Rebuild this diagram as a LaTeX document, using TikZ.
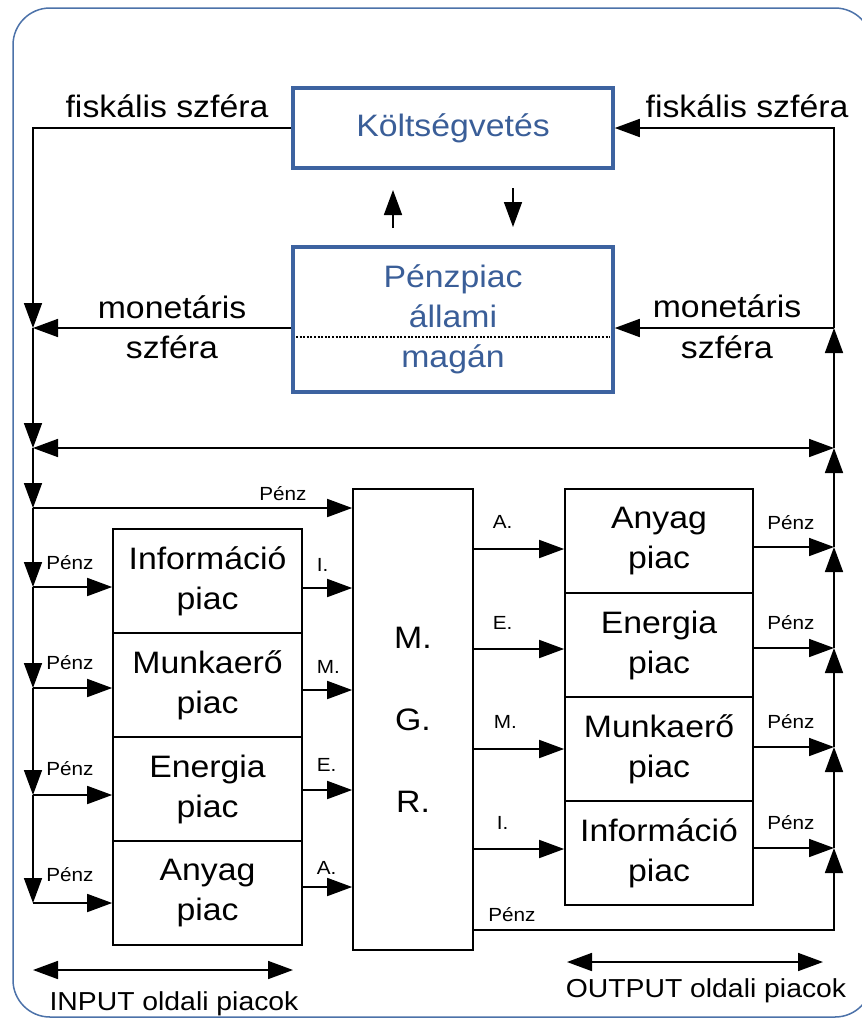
\documentclass[tikz,border=0pt]{standalone}
\usepackage{fontspec}
\setmainfont{Liberation Sans}[FakeStretch=1.09]
\usetikzlibrary{arrows.meta}
\definecolor{frameblue}{HTML}{4C72A9}
\definecolor{boxblue}{HTML}{3D63A0}
\definecolor{textblue}{HTML}{3A5E98}
\newcommand\bigtxt{\fontsize{31pt}{40pt}\selectfont}
\newcommand\smalltxt{\fontsize{19pt}{22pt}\selectfont}
\newcommand\captxt{\fontsize{26pt}{30pt}\selectfont}
\begin{document}
\begin{tikzpicture}[x=1pt,y=-1pt,
  line width=1.7pt,
  arr/.style={-{Triangle[length=25pt,width=18pt]}},
  darr/.style={{Triangle[length=25pt,width=18pt]}-{Triangle[length=25pt,width=18pt]}},
  govbox/.style={draw=boxblue, line width=3.5pt, rectangle, inner sep=0pt,
    minimum width=320pt, text=textblue, font=\bigtxt, align=center},
  mkt/.style={draw, rectangle, inner sep=0pt, minimum width=189pt,
    minimum height=104pt, font=\bigtxt, align=center},
  lbl/.style={font=\smalltxt, inner sep=0pt},
  bigl/.style={font=\bigtxt, inner sep=0pt, anchor=base},
  captl/.style={font=\captxt, inner sep=0pt, anchor=base},
]
\path[use as bounding box, clip] (0,0) rectangle (862,1018);

% outer frame
\draw[frameblue, line width=1.5pt, rounded corners=37pt] (13,8) rectangle (872,1017);

% government blocks
\node[govbox, minimum height=80pt] (kolt) at (453,128) {Költségvetés};
\node[govbox, minimum height=145pt] (ppiac) at (453,319.5) {Pénzpiac\\állami\\magán};
\draw[line width=1.2pt, dash pattern=on 2pt off 1.6pt] (296,337) -- (610,337);

\coordinate (upA) at (393,228);
\coordinate (upB) at (393,190);
\coordinate (dnA) at (513,188);
\coordinate (dnB) at (513,227);
\draw[arr] (upA) -- (upB);
\draw[arr] (dnA) -- (dnB);

% firm block
\node[draw, rectangle, inner sep=0pt, minimum width=120pt, minimum height=461pt,
  font=\bigtxt, align=center] (mgr) at (413,719.5) {M.\\[42pt]G.\\[42pt]R.};

% input side markets
\node[mkt] (infoL)  at (207.5,581) {Információ\\piac};
\node[mkt] (munkaL) at (207.5,685) {Munkaerő\\piac};
\node[mkt] (enL)    at (207.5,789) {Energia\\piac};
\node[mkt] (anyL)   at (207.5,893) {Anyag\\piac};

% output side markets
\node[mkt, minimum width=188pt] (anyR)   at (659,541) {Anyag\\piac};
\node[mkt, minimum width=188pt] (enR)    at (659,645) {Energia\\piac};
\node[mkt, minimum width=188pt] (munkaR) at (659,749) {Munkaerő\\piac};
\node[mkt, minimum width=188pt] (infoR)  at (659,853) {Információ\\piac};

% junctions of the money lines
\coordinate (L0) at (33,128);
\coordinate (L1) at (33,328);
\coordinate (L2) at (33,448);
\coordinate (L3) at (33,508);
\coordinate (L4) at (33,587);
\coordinate (L5) at (33,688);
\coordinate (L6) at (33,795);
\coordinate (L7) at (33,903);
\coordinate (R0) at (834,128);
\coordinate (R1) at (834,328);
\coordinate (R2) at (834,448);
\coordinate (R3) at (834,547);
\coordinate (R4) at (834,648);
\coordinate (R5) at (834,747);
\coordinate (R6) at (834,848);
\coordinate (R7) at (834,930);

% left money column
\draw[arr] (kolt.west) -- (L0) -- (L1);
\draw[arr] (L1) -- (L2);
\draw[arr] (L2) -- (L3);
\draw[arr] (L3) -- (L4);
\draw[arr] (L4) -- (L5);
\draw[arr] (L5) -- (L6);
\draw[arr] (L6) -- (L7);
\draw[arr] (ppiac.west |- L1) -- (L1);
\draw[darr] (L2) -- (R2);
\draw[arr] (L3) -- (mgr.west |- L3);
\draw[arr] (L4) -- (infoL.west |- L4);
\draw[arr] (L5) -- (munkaL.west |- L5);
\draw[arr] (L6) -- (enL.west |- L6);
\draw[arr] (L7) -- (anyL.west |- L7);

% input goods into the firm
\draw[arr] (infoL.east |- 0,588) -- (mgr.west |- 0,588);
\draw[arr] (munkaL.east |- 0,690) -- (mgr.west |- 0,690);
\draw[arr] (enL.east |- 0,790) -- (mgr.west |- 0,790);
\draw[arr] (anyL.east |- 0,887) -- (mgr.west |- 0,887);

% output goods from the firm
\draw[arr] (mgr.east |- 0,549) -- (anyR.west |- 0,549);
\draw[arr] (mgr.east |- 0,649) -- (enR.west |- 0,649);
\draw[arr] (mgr.east |- 0,749) -- (munkaR.west |- 0,749);
\draw[arr] (mgr.east |- 0,849) -- (infoR.west |- 0,849);

% right money column
\draw[arr] (R1) -- (R0) -- (kolt.east);
\draw[arr] (R1) -- (ppiac.east |- R1);
\draw[arr] (R2) -- (R1);
\draw[arr] (R3) -- (R2);
\draw[arr] (R4) -- (R3);
\draw[arr] (R5) -- (R4);
\draw[arr] (R6) -- (R5);
\draw[arr] (mgr.east |- R7) -- (R7) -- (R6);
\draw[arr] (anyR.east |- R3) -- (R3);
\draw[arr] (enR.east |- R4) -- (R4);
\draw[arr] (munkaR.east |- R5) -- (R5);
\draw[arr] (infoR.east |- R6) -- (R6);

% sphere labels
\node[bigl] (fiskL) at (167,117) {fiskális szféra};
\node[bigl] (fiskR) at (747,117) {fiskális szféra};
\node[bigl] (monL1) at (172,318) {monetáris};
\node[bigl] (monL2) at (172,358) {szféra};
\node[bigl] (monR1) at (727,317) {monetáris};
\node[bigl] (monR2) at (727,358) {szféra};

% flow labels
\node[lbl] (pz0) at (283,494) {Pénz};
\node[lbl] (pz1) at (70,563) {Pénz};
\node[lbl] (pz2) at (70,663) {Pénz};
\node[lbl] (pz3) at (70,769) {Pénz};
\node[lbl] (pz4) at (70,875) {Pénz};
\node[lbl, anchor=west] (iI) at (316,565) {I.};
\node[lbl, anchor=west] (iM) at (316,667) {M.};
\node[lbl, anchor=west] (iE) at (316,765) {E.};
\node[lbl, anchor=west] (iA) at (316,868) {A.};
\node[lbl, anchor=west] (oA) at (492,522) {A.};
\node[lbl, anchor=west] (oE) at (492,623) {E.};
\node[lbl, anchor=west] (oM) at (493,722) {M.};
\node[lbl, anchor=west] (oI) at (496,823) {I.};
\node[lbl] (pr1) at (791,523) {Pénz};
\node[lbl] (pr2) at (791,623) {Pénz};
\node[lbl] (pr3) at (791,722) {Pénz};
\node[lbl] (pr4) at (791,823) {Pénz};
\node[lbl] (pr5) at (512,915) {Pénz};

% side captions
\coordinate (inA) at (33,970);
\coordinate (inB) at (293,970);
\coordinate (outA) at (567,962);
\coordinate (outB) at (823,962);
\draw[darr] (inA) -- (inB);
\draw[darr] (outA) -- (outB);
\node[captl] (inlbl) at (174,1010) {INPUT oldali piacok};
\node[captl] (outlbl) at (706,997) {OUTPUT oldali piacok};
\end{tikzpicture}
\end{document}
